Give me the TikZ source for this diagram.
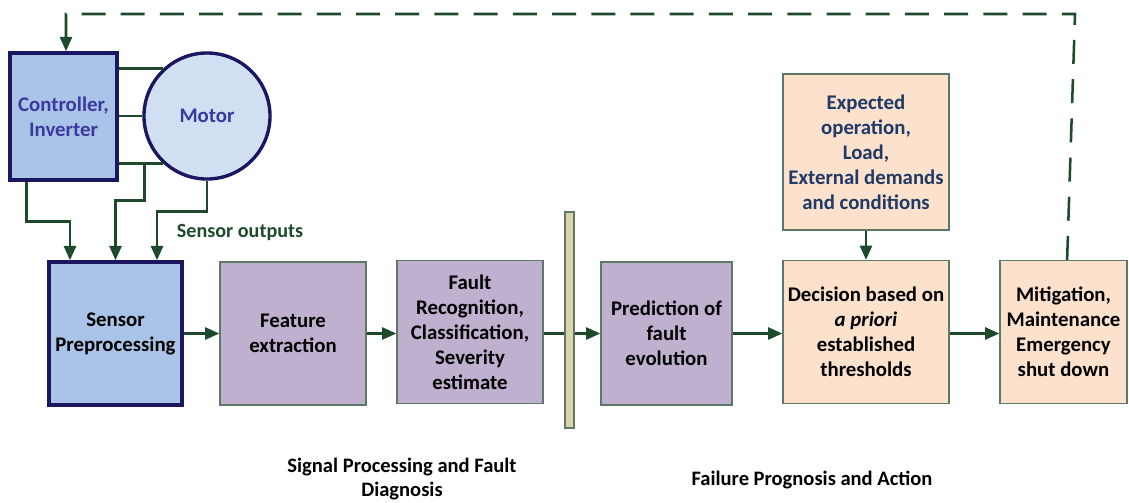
\documentclass[tikz,border=0pt]{standalone}
\usepackage{fontspec}
\setmainfont{Carlito}
\usetikzlibrary{arrows.meta, positioning}

\definecolor{flowgreen}{HTML}{1E4A2C}
\definecolor{navyline}{HTML}{1A1660}
\definecolor{ctrlblue}{HTML}{A9C4E8}
\definecolor{motorblue}{HTML}{D0DFF2}
\definecolor{ctrltext}{HTML}{3A3A9E}
\definecolor{procpurple}{HTML}{BFB0CF}
\definecolor{actpeach}{HTML}{FCE1CC}
\definecolor{boxedge}{HTML}{5E7868}
\definecolor{bartan}{HTML}{D6D6A8}
\definecolor{expnavy}{HTML}{1F3A66}

\begin{document}
\begin{tikzpicture}[
  x=0.025cm, y=-0.025cm,
  font=\fontsize{14.8}{17.8}\selectfont\bfseries,
  plant/.style={rectangle, draw=navyline, line width=2.4pt, fill=ctrlblue, align=center, inner sep=2pt},
  proc/.style={rectangle, draw=boxedge, line width=0.8pt, fill=procpurple, minimum height=3.575cm, align=center, inner sep=2pt},
  act/.style={rectangle, draw=boxedge, line width=0.8pt, fill=actpeach, minimum height=3.575cm, align=center, inner sep=2pt},
  flow/.style={-{Triangle[length=0.36cm, width=0.3cm]}, draw=flowgreen, line width=2pt},
  wire/.style={draw=flowgreen, line width=2pt},
  feedback/.style={-{Triangle[length=0.36cm, width=0.3cm]}, draw=flowgreen, line width=1.8pt, dash pattern=on 0.6cm off 0.38cm},
  caption/.style={align=center, font=\fontsize{14.6}{17}\selectfont\bfseries}
]
\useasboundingbox (0,0) rectangle (1129,502);

% Plant: controller and motor.
\node[plant, minimum width=2.675cm, minimum height=3.175cm, text=ctrltext] (Ctrl) at (63.5,116.5) {Controller,\\Inverter};
\node[circle, draw=navyline, line width=2.4pt, fill=motorblue, minimum size=3.15cm, text=ctrltext] (Motor) at (207,116) {Motor};

% Signal processing chain.
\node[plant, minimum width=3.325cm, minimum height=3.575cm] (Sensor) at (115.5,333.5) {Sensor\\Preprocessing};
\node[proc, minimum width=3.65cm] (Feature) at (293,333.5) {Feature\\extraction};
\node[proc, minimum width=3.65cm] (Fault) at (470,332) {Fault\\Recognition,\\Classification,\\Severity\\estimate};

% Prognosis and action chain.
\node[proc, minimum width=3.275cm] (Predict) at (666.5,333.5) {Prediction of\\fault\\evolution};
\node[act, minimum width=4.15cm] (Decision) at (866,332) {Decision based on\\\textit{a priori}\\established\\thresholds};
\node[act, minimum width=3.175cm] (Mitigate) at (1063.5,332) {Mitigation,\\Maintenance\\Emergency\\shut down};
\node[act, minimum width=4.15cm, minimum height=3.9cm, text=expnavy] (Expected) at (866,152) {Expected\\operation,\\Load,\\External demands\\and conditions};

% Labels.
\node[anchor=west, text=flowgreen, font=\fontsize{14.3}{17}\selectfont\bfseries] (SensOut) at (172,232) {Sensor outputs};
\node[caption] (SPLabel) at (402,479) {Signal Processing and Fault\\Diagnosis};
\node[caption] (FPLabel) at (812,480) {Failure Prognosis and Action};

% Power lines between controller and motor.
\draw[wire] (Motor.133 -| Ctrl.east) -- (Motor.133);
\draw[wire] (Ctrl.east |- Motor.west) -- (Motor.west);
\draw[wire] (Motor.227 -| Ctrl.east) -- (Motor.227);

% Sensor feeds.
\draw[flow] ([xshift=0.45cm]Ctrl.south west) -- ++(0,40) -| ([xshift=-1.1375cm]Sensor.north);
\draw[flow] ([xshift=0.65cm]Motor.227 -| Ctrl.east) -- ++(0,37) -| (Sensor.north);
\draw[flow] (Motor.south) -- ++(0,31) -| ([xshift=1.0375cm]Sensor.north);

% Main chain.
\draw[flow] (Sensor.east |- Feature) -- (Feature);
\draw[flow] (Feature) -- (Fault.west |- Feature);
\draw[flow] (Fault.east |- Predict) -- (Predict);
\draw[flow] (Predict) -- (Decision.west |- Predict);
\draw[flow] (Decision.east |- Predict) -- (Mitigate.west |- Predict);
\draw[flow] (Expected) -- (Decision);

% Divider bar sits on top of the chain line.
\node[rectangle, draw=boxedge, line width=0.8pt, fill=bartan, minimum width=0.225cm, minimum height=5.4cm, inner sep=0pt] (Divider) at (569.5,320) {};

% Feedback to the controller.
\coordinate (FbTop) at (1075,14);
\draw[feedback] ([xshift=0.09cm]Mitigate.north) -- (FbTop) -| ([xshift=0.0625cm]Ctrl.north);

\end{tikzpicture}
\end{document}
